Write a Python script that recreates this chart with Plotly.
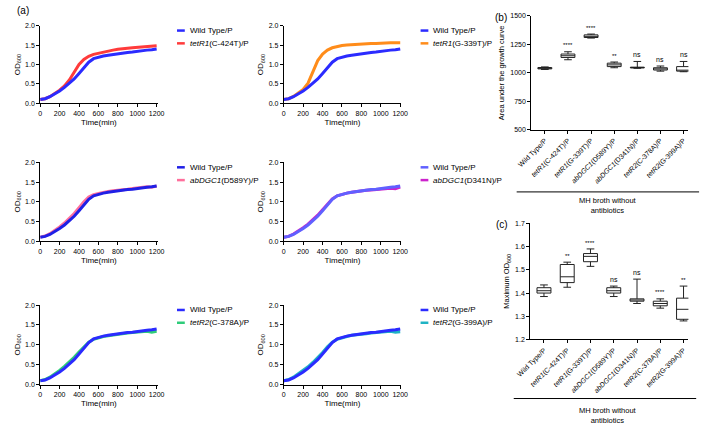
import plotly.graph_objects as go

W, H = 709, 433

# ---------------- data ----------------
time_min = [0, 50, 100, 150, 200, 250, 300, 350, 400, 450, 500, 550, 600,
            650, 700, 750, 800, 850, 900, 950, 1000, 1050, 1100, 1150, 1200]

wild_type = [0.10, 0.12, 0.17, 0.24, 0.32, 0.41, 0.51, 0.63, 0.77, 0.92, 1.06, 1.15, 1.19,
             1.22, 1.24, 1.26, 1.28, 1.29, 1.31, 1.32, 1.34, 1.35, 1.37, 1.38, 1.40]
tetR1_C424T = [0.10, 0.12, 0.17, 0.25, 0.34, 0.45, 0.60, 0.80, 1.00, 1.13, 1.21, 1.26, 1.29,
               1.32, 1.35, 1.37, 1.39, 1.41, 1.42, 1.43, 1.44, 1.45, 1.46, 1.47, 1.48]
tetR1_G339T = [0.10, 0.12, 0.18, 0.26, 0.36, 0.52, 0.80, 1.10, 1.27, 1.37, 1.43, 1.47, 1.49,
               1.50, 1.51, 1.52, 1.53, 1.53, 1.54, 1.54, 1.55, 1.55, 1.56, 1.56, 1.56]
abDGC1_D589Y = [0.10, 0.13, 0.19, 0.27, 0.36, 0.46, 0.57, 0.70, 0.85, 1.00, 1.12, 1.18, 1.21,
                1.24, 1.26, 1.28, 1.29, 1.31, 1.32, 1.34, 1.35, 1.37, 1.38, 1.37, 1.40]
abDGC1_D341N = [0.10, 0.12, 0.18, 0.25, 0.34, 0.43, 0.54, 0.66, 0.80, 0.94, 1.07, 1.15, 1.19,
                1.22, 1.24, 1.26, 1.27, 1.29, 1.30, 1.31, 1.32, 1.33, 1.34, 1.33, 1.37]
tetR2_C378A = [0.10, 0.13, 0.19, 0.27, 0.36, 0.46, 0.57, 0.69, 0.82, 0.95, 1.07, 1.14, 1.18,
               1.21, 1.23, 1.25, 1.27, 1.28, 1.30, 1.31, 1.32, 1.33, 1.34, 1.32, 1.34]
tetR2_G399A = [0.10, 0.13, 0.19, 0.27, 0.35, 0.45, 0.56, 0.68, 0.81, 0.95, 1.07, 1.14, 1.18,
               1.21, 1.24, 1.25, 1.27, 1.28, 1.30, 1.31, 1.32, 1.33, 1.34, 1.32, 1.33]

od_ticks = [0.0, 0.5, 1.0, 1.5, 2.0]
time_ticks = [0, 200, 400, 600, 800, 1000, 1200]

strains = ["Wild Type/P", "<i>tetR1</i>(C-424T)/P", "<i>tetR1</i>(G-339T)/P",
           "<i>abDGC1</i>(D589Y)/P", "<i>abDGC1</i>(D341N)/P",
           "<i>tetR2</i>(C-378A)/P", "<i>tetR2</i>(G-399A)/P"]

# (b) area under the growth curve
auc_low = [1030, 1115, 1305, 1045, 1040, 1015, 1010]
auc_q1 = [1035, 1135, 1310, 1055, 1043, 1025, 1015]
auc_med = [1040, 1150, 1320, 1070, 1047, 1035, 1020]
auc_q3 = [1047, 1165, 1333, 1085, 1050, 1045, 1055]
auc_high = [1052, 1185, 1340, 1095, 1100, 1060, 1100]
auc_sig = ["", "****", "****", "**", "ns", "ns", "ns"]

# (c) maximum OD600
max_low = [1.385, 1.425, 1.515, 1.385, 1.355, 1.335, 1.280]
max_q1 = [1.400, 1.445, 1.535, 1.400, 1.365, 1.345, 1.287]
max_med = [1.410, 1.470, 1.558, 1.410, 1.370, 1.355, 1.330]
max_q3 = [1.423, 1.523, 1.570, 1.423, 1.375, 1.365, 1.378]
max_high = [1.435, 1.533, 1.590, 1.430, 1.460, 1.375, 1.430]
max_sig = ["", "**", "****", "ns", "ns", "****", "**"]

# ---------------- layout helpers ----------------
def fx(px):
    return px / W

def fy(py):
    return 1 - py / H

FONT = "Liberation Sans, Arial, sans-serif"

fig = go.Figure()
annotations = []
shapes = []

# growth-curve panels: (x0 px, ytop px, ybottom px, mutant data, mutant name, mutant colour, wt colour)
panels = [
    (27, 22, 101, tetR1_C424T, "<i>tetR1</i>(C-424T)/P", "#ff3b3b", "#2b2bff"),
    (278, 22, 101, tetR1_G339T, "<i>tetR1</i>(G-339T)/P", "#ff8c1a", "#2b2bff"),
    (27, 161, 241, abDGC1_D589Y, "<i>abDGC1</i>(D589Y)/P", "#ff6f9c", "#2020e6"),
    (278, 161, 241, abDGC1_D341N, "<i>abDGC1</i>(D341N)/P", "#cc22cc", "#6060ff"),
    (27, 306, 387, tetR2_C378A, "<i>tetR2</i>(C-378A)/P", "#2ecc7a", "#2b2bff"),
    (278, 306, 387, tetR2_G399A, "<i>tetR2</i>(G-399A)/P", "#1fb3c4", "#2b2bff"),
]

axis_common = dict(showline=True, linecolor="black", linewidth=1, ticks="outside",
                   ticklen=3, tickwidth=1, tickcolor="black", showgrid=False,
                   zeroline=False, tickfont=dict(size=7, family=FONT, color="black"))

for i, (x0, yt, yb, mut, mname, mcol, wcol) in enumerate(panels):
    n = i + 1
    xa = "x" if n == 1 else f"x{n}"
    ya = "y" if n == 1 else f"y{n}"
    fig.add_trace(go.Scatter(x=time_min, y=mut, mode="lines", name=mname,
                             line=dict(color=mcol, width=3), xaxis=xa, yaxis=ya,
                             showlegend=False))
    fig.add_trace(go.Scatter(x=time_min, y=wild_type, mode="lines", name="Wild Type/P",
                             line=dict(color=wcol, width=3), xaxis=xa, yaxis=ya,
                             showlegend=False))
    xkey = "xaxis" if n == 1 else f"xaxis{n}"
    ykey = "yaxis" if n == 1 else f"yaxis{n}"
    fig.update_layout(**{
        xkey: dict(domain=[fx(x0), fx(x0 + 121)], range=[0, 1210], anchor=ya,
                   tickvals=time_ticks,
                   title=dict(text="Time(min)", font=dict(size=8, family=FONT, color="black"),
                              standoff=3),
                   **axis_common),
        ykey: dict(domain=[fy(yb), fy(yt)], range=[0, 2], anchor=xa,
                   tickvals=od_ticks, tickformat=".1f",
                   title=dict(text="OD<sub>600</sub>", font=dict(size=8, family=FONT, color="black"),
                              standoff=3),
                   **axis_common),
    })
    # per-panel legend (short line key + label)
    for k, (nm, col) in enumerate([("Wild Type/P", wcol), (mname, mcol)]):
        ly = yt + 5 + 13 * k
        shapes.append(dict(type="line", xref="paper", yref="paper",
                           x0=fx(x0 + 141), x1=fx(x0 + 149), y0=fy(ly), y1=fy(ly),
                           line=dict(color=col, width=2.5)))
        annotations.append(dict(x=fx(x0 + 152), y=fy(ly), xref="paper", yref="paper",
                                text=nm, showarrow=False, xanchor="left", yanchor="middle",
                                font=dict(size=8, family=FONT, color="black")))

# box panels
box_style = dict(fillcolor="white", line=dict(color="#222222", width=1),
                 whiskerwidth=0.55, width=0.6, showlegend=False)

fig.add_trace(go.Box(x=strains, q1=auc_q1, median=auc_med, q3=auc_q3,
                     lowerfence=auc_low, upperfence=auc_high,
                     xaxis="x7", yaxis="y7", **box_style))
fig.add_trace(go.Box(x=strains, q1=max_q1, median=max_med, q3=max_q3,
                     lowerfence=max_low, upperfence=max_high,
                     xaxis="x8", yaxis="y8", **box_style))

cat_axis = dict(axis_common)
cat_axis["tickfont"] = dict(size=7, family=FONT, color="black")

fig.update_layout(
    xaxis7=dict(domain=[fx(533), fx(695)], anchor="y7", type="category",
                categoryorder="array", categoryarray=strains,
                range=[-0.59, 6.21], tickangle=-45, **cat_axis),
    yaxis7=dict(domain=[fy(128), fy(12)], anchor="x7", range=[500, 1500],
                tickvals=[500, 750, 1000, 1250, 1500],
                title=dict(text="Area under the growth curve",
                           font=dict(size=7.5, family=FONT, color="black"), standoff=4),
                **axis_common),
    xaxis8=dict(domain=[fx(532), fx(695)], anchor="y8", type="category",
                categoryorder="array", categoryarray=strains,
                range=[-0.59, 6.21], tickangle=-45, **cat_axis),
    yaxis8=dict(domain=[fy(341), fy(223)], anchor="x8", range=[1.2, 1.7],
                tickvals=[1.2, 1.3, 1.4, 1.5, 1.6, 1.7], tickformat=".1f",
                title=dict(text="Maximum OD<sub>600</sub>",
                           font=dict(size=7.5, family=FONT, color="black"), standoff=4),
                **axis_common),
)

for s, top, lab in zip(strains, auc_high, auc_sig):
    if lab:
        annotations.append(dict(x=s, y=top + 12, xref="x7", yref="y7", text=lab,
                                showarrow=False, xanchor="center", yanchor="bottom",
                                font=dict(size=7 if lab == "ns" else 6, family=FONT, color="#000000")))
for s, top, lab in zip(strains, max_high, max_sig):
    if lab:
        annotations.append(dict(x=s, y=top + 0.006, xref="x8", yref="y8", text=lab,
                                showarrow=False, xanchor="center", yanchor="bottom",
                                font=dict(size=7 if lab == "ns" else 6, family=FONT, color="#000000")))

# panel letters and group captions
for txt, px, py in [("(a)", 9, 7), ("(b)", 502, 14), ("(c)", 503, 224)]:
    annotations.append(dict(x=fx(px), y=fy(py), xref="paper", yref="paper", text=txt,
                            showarrow=False, xanchor="center", yanchor="middle",
                            font=dict(size=10, family=FONT, color="black")))
for py in [205, 418]:
    annotations.append(dict(x=fx(612), y=fy(py), xref="paper", yref="paper",
                            text="MH broth without<br>antibiotics", showarrow=False,
                            xanchor="center", yanchor="middle",
                            font=dict(size=7.5, family=FONT, color="black")))

shapes += [
    dict(type="line", xref="paper", yref="paper", x0=fx(518), x1=fx(706), y0=fy(191), y1=fy(191),
         line=dict(color="black", width=1)),
    dict(type="line", xref="paper", yref="paper", x0=fx(515), x1=fx(703), y0=fy(401), y1=fy(401),
         line=dict(color="black", width=1)),
]

fig.update_layout(width=W, height=H, autosize=False,
                  margin=dict(l=0, r=0, t=0, b=0),
                  paper_bgcolor="white", plot_bgcolor="white",
                  font=dict(family=FONT, color="black"),
                  annotations=annotations, shapes=shapes)

fig.write_html("out.html", config={"displayModeBar": False},
               post_script="document.body.style.margin='0';")
